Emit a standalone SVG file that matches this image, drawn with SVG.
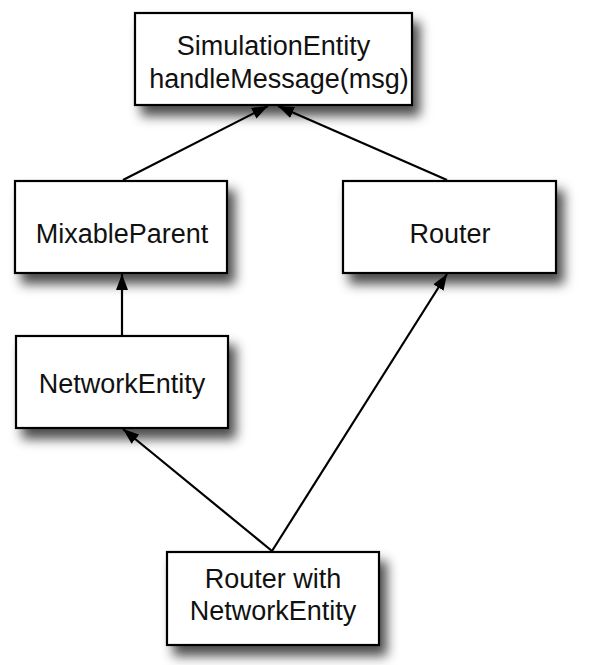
<svg xmlns="http://www.w3.org/2000/svg" width="589" height="665" viewBox="0 0 589 665">
<style>
.box{fill:#fff;stroke:#000;stroke-width:2.2}
.lbl{font-family:"Liberation Sans",Arial,sans-serif;font-size:27px;fill:#111;text-anchor:middle}
.edge{stroke:#000;stroke-width:2.2;fill:none;marker-end:url(#ah)}
</style>
<defs>
<filter id="sh" x="-20%" y="-20%" width="150%" height="170%">
<feDropShadow dx="7" dy="10" stdDeviation="6" flood-color="#000" flood-opacity="0.7"/>
</filter>
<marker id="ah" viewBox="0 0 16 12" refX="16" refY="6" markerWidth="16" markerHeight="12" markerUnits="userSpaceOnUse" orient="auto">
<path d="M0,0 L16,6 L0,12 Z" fill="#000"/>
</marker>
</defs>
<rect width="589" height="665" fill="#fff"/>
<g id="node-simulationentity">
<rect class="box" x="135" y="13" width="277" height="92" filter="url(#sh)"/>
<text class="lbl" x="273.5" y="55">SimulationEntity</text>
<text class="lbl" x="279" y="88">handleMessage(msg)</text>
</g>
<g id="node-mixableparent">
<rect class="box" x="15" y="181" width="212" height="92" filter="url(#sh)"/>
<text class="lbl" x="122" y="243">MixableParent</text>
</g>
<g id="node-router">
<rect class="box" x="343" y="181" width="213" height="92" filter="url(#sh)"/>
<text class="lbl" x="450" y="243">Router</text>
</g>
<g id="node-networkentity">
<rect class="box" x="16" y="336" width="212" height="92" filter="url(#sh)"/>
<text class="lbl" x="122" y="393">NetworkEntity</text>
</g>
<g id="node-routerwithnetworkentity">
<rect class="box" x="167" y="552" width="212" height="93" filter="url(#sh)"/>
<text class="lbl" x="273" y="588">Router with</text>
<text class="lbl" x="273" y="620">NetworkEntity</text>
</g>
<g id="connectors">
<line class="edge" x1="123" y1="180" x2="268" y2="106"/>
<line class="edge" x1="447" y1="180" x2="278" y2="106"/>
<line class="edge" x1="122" y1="336" x2="122" y2="274"/>
<line class="edge" x1="272" y1="551" x2="123" y2="429"/>
<line class="edge" x1="272" y1="551" x2="447" y2="274"/>
</g>
</svg>
